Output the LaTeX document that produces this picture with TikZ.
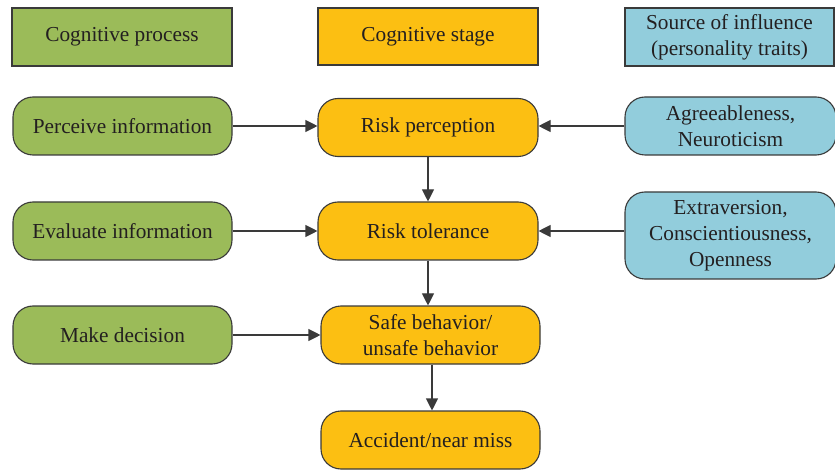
\documentclass[tikz,border=0pt]{standalone}
\usepackage{fontspec}
\setmainfont{Liberation Serif}
\usetikzlibrary{arrows.meta}
\definecolor{cgreen}{HTML}{9BBB59}
\definecolor{cyellow}{HTML}{FCBF12}
\definecolor{cblue}{HTML}{92CDDC}
\definecolor{cline}{HTML}{3A3A3A}
\definecolor{ctext}{HTML}{231F20}
\begin{document}
\begin{tikzpicture}[x=1pt,y=-1pt,
  box/.style={draw=cline, line width=1.1pt, text=ctext, align=center, inner sep=0pt,
    font=\fontsize{21.3}{26}\selectfont, minimum height=58pt},
  head/.style={box},
  pill/.style={box, rounded corners=20pt},
  gbox/.style={fill=cgreen, minimum width=219pt},
  ybox/.style={fill=cyellow, minimum width=220pt},
  bbox/.style={fill=cblue, minimum width=211pt},
  arr/.style={draw=cline, line width=1.1pt, -{Triangle[length=12pt,width=12pt]}}
]
\useasboundingbox (0,0) rectangle (835,470);
\node[head,gbox,minimum width=220pt] (hp) at (122,37) {Cognitive process};
\node[head,ybox,minimum height=57pt] (hs) at (428,36.5) {Cognitive stage};
\node[head,bbox,minimum width=209pt] (hi) at (729.5,37) {Source of influence\\(personality traits)};

\node[pill,gbox] (p1) at (122.5,126) {Perceive information};
\node[pill,gbox] (p2) at (122.5,231) {Evaluate information};
\node[pill,gbox] (p3) at (122.5,335) {Make decision};

\node[pill,ybox] (s1) at (428,127.5) {Risk perception};
\node[pill,ybox] (s2) at (428,231) {Risk tolerance};
\node[pill,ybox,minimum width=219pt] (s3) at (430.5,335) {Safe behavior/\\unsafe behavior};
\node[pill,ybox,minimum width=219pt] (s4) at (430.5,440) {Accident/near miss};

\node[pill,bbox] (i1) at (730.5,126) {Agreeableness,\\Neuroticism};
\node[pill,bbox,minimum height=87pt] (i2) at (730.5,235.5) {Extraversion,\\Conscientiousness,\\Openness};

\draw[arr] (p1.east) -- (p1.east -| s1.west);
\draw[arr] (p2.east) -- (p2.east -| s2.west);
\draw[arr] (p3.east) -- (p3.east -| s3.west);
\draw[arr] (i1.west) -- (i1.west -| s1.east);
\draw[arr] (i2.west |- s2.east) -- (s2.east);
\draw[arr] (s1.south) -- (s2.north);
\draw[arr] (s2.south) -- (s2.south |- s3.north);
\draw[arr] ([xshift=1.5pt]s3.south) -- ([xshift=1.5pt]s3.south |- s4.north);
\end{tikzpicture}
\end{document}
